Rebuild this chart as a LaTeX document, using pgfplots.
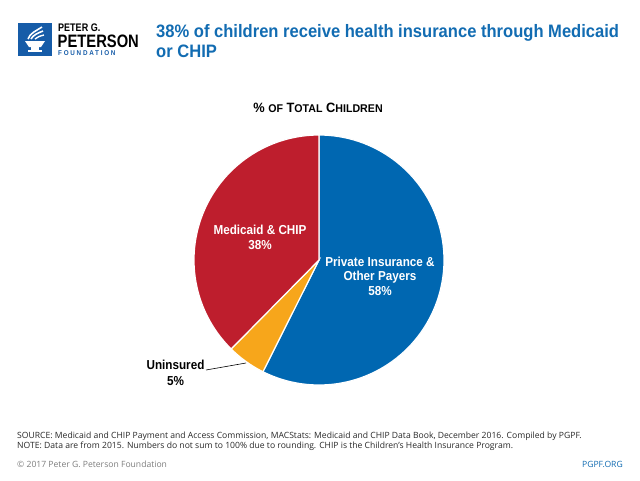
\documentclass[border=0pt]{standalone}
\usepackage{fontspec}
\usepackage{pgfplots}
\pgfplotsset{compat=1.18}
\setmainfont{Open Sans}
\newfontfamily\cond[FakeStretch=0.82]{Liberation Sans}
\newfontfamily\condt[FakeStretch=0.92]{Liberation Sans}
\newfontfamily\condl[FakeStretch=0.9]{Liberation Sans}
\newfontfamily\condh[FakeStretch=0.95]{Liberation Sans}
\newfontfamily\condsp[FakeStretch=0.9,LetterSpace=25]{Liberation Sans}
\definecolor{pblue}{RGB}{0,103,177}
\definecolor{pred}{RGB}{190,30,45}
\definecolor{porange}{RGB}{247,166,27}
\definecolor{tblue}{RGB}{18,108,178}
\definecolor{logoblue}{RGB}{22,92,168}
\definecolor{ftext}{RGB}{40,40,40}
\definecolor{fgray}{RGB}{125,125,125}
% data (percent of total children)
\def\vPriv{57.4}
\def\vUnins{5.0}
\def\vMed{37.6}
\pgfmathsetmacro\aA{90-\vPriv*3.6}
\pgfmathsetmacro\aB{\aA-\vUnins*3.6}
\pgfmathsetmacro\aC{\aB-\vMed*3.6}
\begin{document}
\begin{tikzpicture}
\path[use as bounding box] (0,0) rectangle (640pt,480pt);
\begin{axis}[at={(0,0)},anchor=south west,scale only axis,width=640pt,height=480pt,
  xmin=0,xmax=640,ymin=0,ymax=480,y dir=reverse,hide axis,clip=false]
% pie slices
\addplot[draw=white,line width=1.2pt,fill=pblue,domain=\aA:90,samples=90,variable=\t]
  ({319+125*cos(\t)},{260-125*sin(\t)}) -- (axis cs:319,260) -- cycle;
\addplot[draw=white,line width=1.2pt,fill=porange,domain=\aB:\aA,samples=20,variable=\t]
  ({319+125*cos(\t)},{260-125*sin(\t)}) -- (axis cs:319,260) -- cycle;
\addplot[draw=white,line width=1.2pt,fill=pred,domain=\aC:\aB,samples=70,variable=\t]
  ({319+125*cos(\t)},{260-125*sin(\t)}) -- (axis cs:319,260) -- cycle;
% leader line
\draw[black,line width=0.6pt] (axis cs:206,370) -- (axis cs:246,363);
% slice labels
\begin{scope}[every node/.style={font=\condl\bfseries\fontsize{13}{14}\selectfont,inner sep=0pt}]
\node[white,anchor=base] at (axis cs:260,234) {Medicaid \& CHIP};
\node[white,anchor=base] at (axis cs:260,249) {38\%};
\node[white,anchor=base] at (axis cs:380,266) {Private Insurance \&};
\node[white,anchor=base] at (axis cs:380,280) {Other Payers};
\node[white,anchor=base] at (axis cs:380,295) {58\%};
\node[black,anchor=base] at (axis cs:175.5,369) {Uninsured};
\node[black,anchor=base] at (axis cs:175.5,385) {5\%};
\end{scope}
% chart subtitle
\node[anchor=base,inner sep=0pt,font=\condh\bfseries\fontsize{13.5}{15}\selectfont] at (axis cs:318,112)
  {\%{} {\fontsize{11.2}{12}\selectfont OF} T{\fontsize{11.2}{12}\selectfont OTAL} C{\fontsize{11.2}{12}\selectfont HILDREN}};
% title
\node[anchor=base west,inner sep=0pt,text=tblue,font=\condt\bfseries\fontsize{18}{20}\selectfont] at (axis cs:156,37)
  {38\% of children receive health insurance through Medicaid};
\node[anchor=base west,inner sep=0pt,text=tblue,font=\condt\bfseries\fontsize{18}{20}\selectfont] at (axis cs:156,57)
  {or CHIP};
% logo
\fill[logoblue] (axis cs:18,23) rectangle (axis cs:52,56);
\fill[white] (axis cs:25,41) -- (axis cs:45,41) -- (axis cs:41,47) -- (axis cs:29,47) -- cycle;
\fill[white] (axis cs:31,47) rectangle (axis cs:39,50);
\fill[white] (axis cs:28,50) rectangle (axis cs:42,52);
\draw[white,line width=1.6pt] (axis cs:28,39) .. controls (axis cs:30,33) and (axis cs:36,31) .. (axis cs:42,27);
\draw[white,line width=1.6pt] (axis cs:31,39) .. controls (axis cs:33,35) and (axis cs:38,33) .. (axis cs:43,31);
\draw[white,line width=1.4pt] (axis cs:35,39) .. controls (axis cs:37,37) and (axis cs:40,36) .. (axis cs:44,35);
\node[anchor=base west,inner sep=0pt,font=\cond\bfseries\fontsize{11}{12}\selectfont] at (axis cs:58,31) {PETER G.};
\node[anchor=base west,inner sep=0pt,font=\cond\bfseries\fontsize{18}{20}\selectfont] at (axis cs:57.5,47) {PETERSON};
\node[anchor=base west,inner sep=0pt,text=logoblue,font=\condsp\bfseries\fontsize{7}{8}\selectfont] at (axis cs:58,55) {FOUNDATION};
% footnotes
\node[anchor=base west,inner sep=0pt,text=ftext,font=\fontsize{8.6}{10}\selectfont] at (axis cs:17,438)
  {SOURCE: Medicaid and CHIP Payment and Access Commission, MACStats: Medicaid and CHIP Data Book, December 2016. Compiled by PGPF.};
\node[anchor=base west,inner sep=0pt,text=ftext,font=\fontsize{8.6}{10}\selectfont] at (axis cs:17,448)
  {NOTE: Data are from 2015. Numbers do not sum to 100\% due to rounding. CHIP is the Children's Health Insurance Program.};
\node[anchor=base west,inner sep=0pt,text=fgray,font=\fontsize{8.6}{10}\selectfont] at (axis cs:17,467)
  {\textcopyright{} 2017 Peter G. Peterson Foundation};
\node[anchor=base east,inner sep=0pt,text=tblue,font=\fontsize{8.6}{10}\selectfont] at (axis cs:623,467)
  {PGPF.ORG};
\end{axis}
\end{tikzpicture}
\end{document}
